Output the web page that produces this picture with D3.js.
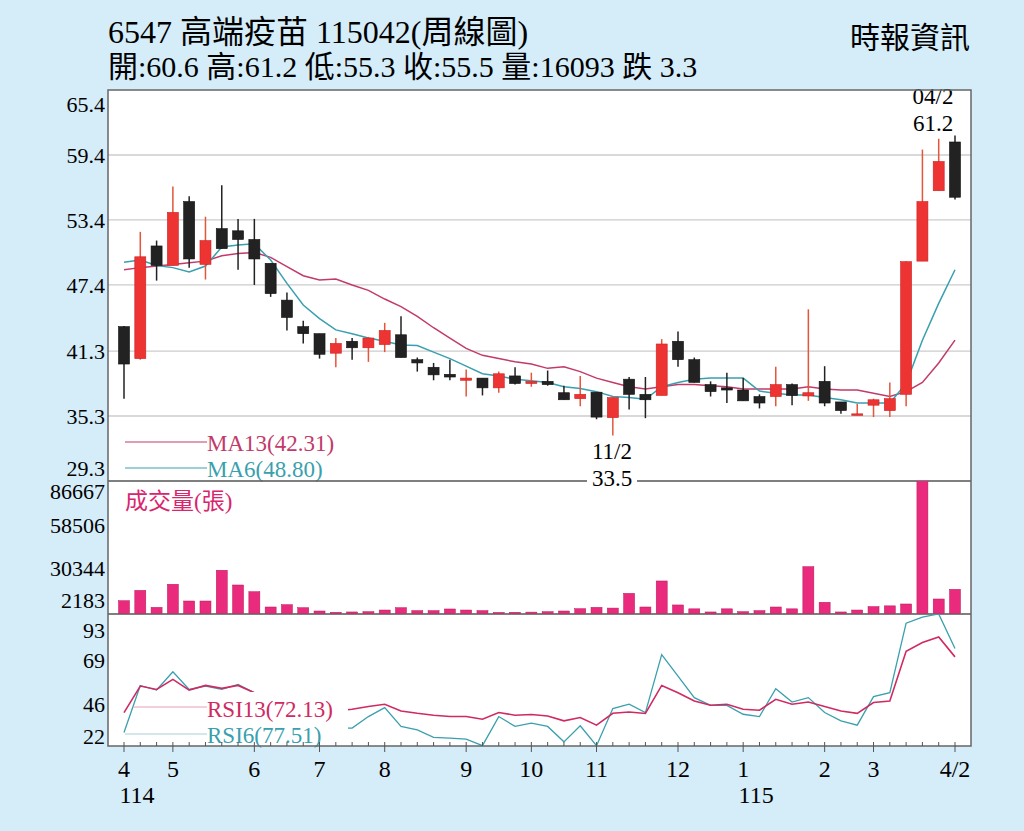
<!DOCTYPE html>
<html><head><meta charset="utf-8">
<script src="https://cdn.jsdelivr.net/npm/d3@7"></script>
<style>body{margin:0;background:#d5ecf9;}svg{display:block;font-family:"Liberation Serif","Noto Sans CJK TC",serif;}</style>
</head><body><svg id="c" width="1024" height="831"></svg>
<script>
const opens  = [43.55,40.6,51.0,49.2,55.1,49.3,52.6,52.4,51.6,49.4,46.0,43.55,42.9,41.1,42.2,41.6,41.9,42.8,40.5,39.8,39.15,38.6,38.8,37.9,39.0,38.3,38.5,37.45,36.9,37.5,35.15,38.7,37.3,37.2,42.2,40.5,38.2,37.9,37.7,37.1,37.1,38.2,37.15,38.5,36.6,35.37,36.3,35.8,37.3,49.6,56.1,60.6];
const highs  = [43.6,52.3,51.5,56.5,55.6,53.7,56.6,53.5,53.5,49.4,46.7,44.1,42.9,42.5,42.5,42.6,43.9,44.5,40.7,40.2,40.5,39.6,38.8,39.4,39.8,39.3,39.5,38.1,39.0,37.5,37.0,38.9,38.9,42.4,43.1,40.7,38.5,39.3,38.8,37.3,39.85,38.3,45.15,39.9,36.6,36.4,36.9,38.4,49.6,59.9,60.9,61.2];
const lows   = [36.9,40.5,47.8,49.2,49.0,47.9,50.75,48.8,47.4,46.3,43.2,42.0,40.6,39.8,40.5,40.3,41.2,40.7,39.4,38.6,38.6,37.1,37.2,37.45,38.2,38.0,38.1,36.8,36.2,35.0,33.5,35.9,35.1,37.2,39.85,38.4,37.1,36.5,36.7,36.0,36.2,36.3,36.7,36.2,35.5,35.37,35.2,35.2,36.2,49.6,56.1,55.3];
const closes = [40.1,50.0,49.2,54.1,49.8,51.5,50.75,51.6,49.8,46.6,44.4,42.9,41.0,42.0,41.6,42.5,43.2,40.7,40.2,39.1,38.9,38.8,37.9,39.2,38.3,38.5,38.2,36.8,37.3,35.2,37.0,37.3,36.8,41.95,40.5,38.4,37.55,37.7,36.7,36.5,38.2,37.2,37.45,36.5,35.8,35.5,36.8,36.9,49.55,55.1,58.8,55.5];
const ma13 = [48.8,49.0,49.15,49.3,49.45,49.6,50.1,50.3,50.4,49.95,49.1,48.25,47.85,47.95,47.4,46.9,46.1,45.4,44.5,43.45,42.5,41.55,40.9,40.6,40.3,40.1,39.7,39.85,39.4,38.8,38.4,38.0,37.8,38.0,38.2,38.2,38.1,38.0,37.8,37.8,37.8,37.8,38.0,37.8,37.7,37.7,37.4,37.1,37.55,38.4,40.2,42.31];
const ma6 = [49.5,49.7,49.2,49.0,48.6,49.15,50.9,51.1,51.2,49.7,47.55,45.55,44.3,43.25,42.9,42.5,42.2,41.85,41.8,41.2,40.6,39.9,39.2,39.0,38.7,38.56,38.4,38.0,37.85,37.55,37.1,37.0,36.85,38.0,38.4,38.7,38.8,38.8,38.8,37.6,37.4,37.25,37.25,37.0,36.8,36.5,36.5,36.5,38.3,42.3,45.7,48.8];
const volumes = [8460,15400,4000,19500,8250,8250,28900,19000,14500,4230,5800,3760,1540,700,900,1100,2200,3760,1800,1800,2900,2200,1800,600,700,800,1100,1540,3100,4000,3500,13400,4230,21700,5600,3000,900,3000,1100,1800,4230,3000,31300,7400,900,2200,4500,5000,6250,92000,9600,16093];
const rsi13 = [36,53.2,51,57.5,50.6,53.6,51.7,53.6,48.9,45,42,40,38,37,38.1,39.9,41.4,37,35.5,34.3,33.4,33.4,31.7,36,34.3,34.7,33.8,30.6,32.8,27.8,35.5,36.4,35.4,53.6,48.9,43.5,40.7,41.4,38.1,37.5,44.6,41.4,42.8,39.9,37,35.5,42.5,43.5,75.7,81.5,85,72.13];
const rsi6 = [23.1,53.6,50.6,62.5,51,53.2,51,54.3,48.9,40,32,28,25,26,25.9,33.4,39.2,27,24.8,19.9,19.4,18.8,14.5,33.4,27,29.1,27,17,27.4,14.5,38.6,41.4,36,73.6,59.6,45.7,40.7,40.7,34.9,33.4,51.5,42.8,45.7,36,30.6,27.8,46.3,48.9,94,97.9,100,77.51];
const priceTicks = [65.4,59.4,53.4,47.4,41.3,35.3,29.3];
const volTicks = [86667,58506,30344,2183];
const rsiTicks = [93,69,46,22];
const monthTicks = [[0,"4"],[3,"5"],[8,"6"],[12,"7"],[16,"8"],[21,"9"],[25,"10"],[29,"11"],[34,"12"],[38,"1"],[43,"2"],[46,"3"],[51,"4/2"]];
const yearTicks = [[0,"114"],[38,"115"]];
const title = "6547  高端疫苗 115042(周線圖)";
const subtitle = "開:60.6 高:61.2 低:55.3 收:55.5 量:16093 跌 3.3";
const source = "時報資訊";

const svg = d3.select("#c");
const L=108, R=971, T=90, P1=481, P2=614, B=746;
const n = closes.length;
const x = d3.scaleLinear().domain([0,n-1]).range([124,955]);
const yP = d3.scaleLinear().domain([29.3,65.4]).range([P1,T]);
const yV = d3.scaleLinear().domain([0,88800]).range([P2-0.7,P1]);
const yR = d3.scaleLinear().domain([14.3,98]).range([B,P2+3]);
const BLK="#222", RED="#ee3333", MA13C="#c23a6a", MA6C="#3a9fae";

svg.append("rect").attr("x",L).attr("y",T).attr("width",R-L).attr("height",B-T).attr("fill","#fff");
svg.append("g").selectAll("line").data(priceTicks.slice(1,-1)).join("line")
 .attr("x1",L).attr("x2",R).attr("y1",d=>yP(d)).attr("y2",d=>yP(d)).attr("stroke","#ccc").attr("stroke-width",1.3);
svg.append("g").selectAll("text").data(priceTicks).join("text")
 .attr("x",L-3).attr("y",(d,i)=>i===0?yP(d)+22:i===priceTicks.length-1?yP(d)-5:yP(d)+8).attr("text-anchor","end").attr("font-size",22).text(d=>d);
svg.append("clipPath").attr("id","cp").append("rect").attr("x",L).attr("y",T).attr("width",R-L).attr("height",P1-T);
svg.append("clipPath").attr("id","cv").append("rect").attr("x",L).attr("y",P1).attr("width",R-L).attr("height",P2-P1);
svg.append("clipPath").attr("id","cr").append("rect").attr("x",L).attr("y",P2).attr("width",R-L).attr("height",B-P2);
const gp = svg.append("g").attr("clip-path","url(#cp)");
const line = y=>d3.line().x((d,i)=>x(i)).y(d=>y(d));
gp.append("path").attr("d",line(yP)(ma13)).attr("fill","none").attr("stroke",MA13C).attr("stroke-width",1.5);
gp.append("path").attr("d",line(yP)(ma6)).attr("fill","none").attr("stroke",MA6C).attr("stroke-width",1.5);
const idx = d3.range(n);
const col = i=>closes[i]>=opens[i]?RED:BLK;
gp.selectAll(".w").data(idx).join("line").attr("x1",i=>x(i)).attr("x2",i=>x(i))
 .attr("y1",i=>yP(highs[i])).attr("y2",i=>yP(lows[i])).attr("stroke",i=>closes[i]>=opens[i]?"#e4553a":BLK).attr("stroke-width",1.5);
gp.selectAll(".b").data(idx).join("rect").attr("x",i=>x(i)-5.5).attr("width",11)
 .attr("y",i=>yP(Math.max(opens[i],closes[i]))).attr("height",i=>Math.max(1.5,Math.abs(yP(opens[i])-yP(closes[i]))))
 .attr("fill",col).attr("stroke",i=>closes[i]>=opens[i]?"#c22":"#111").attr("stroke-width",0.6);
// MA legend
svg.append("line").attr("x1",125).attr("x2",207).attr("y1",442).attr("y2",442).attr("stroke",MA13C);
svg.append("text").attr("x",207).attr("y",451).attr("font-size",23).attr("fill",MA13C).text("MA13("+ma13[n-1].toFixed(2)+")");
svg.append("line").attr("x1",125).attr("x2",207).attr("y1",468).attr("y2",468).attr("stroke",MA6C);
svg.append("text").attr("x",207).attr("y",477).attr("font-size",23).attr("fill",MA6C).text("MA6("+ma6[n-1].toFixed(2)+")");
// separators
svg.append("line").attr("x1",L).attr("x2",R).attr("y1",P1).attr("y2",P1).attr("stroke","#555").attr("stroke-width",1.5);
svg.append("line").attr("x1",L).attr("x2",R).attr("y1",P2).attr("y2",P2).attr("stroke","#555").attr("stroke-width",1.5);
// annotations
svg.append("text").attr("x",933).attr("y",104).attr("text-anchor","middle").attr("font-size",23).text("04/2");
svg.append("text").attr("x",933).attr("y",131).attr("text-anchor","middle").attr("font-size",23).text(highs[n-1].toFixed(1));
svg.append("rect").attr("x",587).attr("y",470).attr("width",50).attr("height",16).attr("fill","#fff");
svg.append("text").attr("x",612).attr("y",459).attr("text-anchor","middle").attr("font-size",23).text("11/2");
svg.append("text").attr("x",612).attr("y",486).attr("text-anchor","middle").attr("font-size",23).text(lows[30].toFixed(1));
// volume
svg.append("g").attr("clip-path","url(#cv)").selectAll("rect").data(idx).join("rect")
 .attr("x",i=>x(i)-5.5).attr("width",11).attr("y",i=>yV(volumes[i])).attr("height",i=>yV(0)-yV(volumes[i]))
 .attr("fill","#ea2a7d").attr("stroke","#b81a5a").attr("stroke-width",0.5);
const volLabY=[499,533,576,608];
svg.append("g").selectAll("text").data(volTicks).join("text")
 .attr("x",L-3).attr("y",(d,i)=>volLabY[i]).attr("text-anchor","end").attr("font-size",22).text(d=>d);
svg.append("text").attr("x",125).attr("y",509).attr("font-size",23).attr("fill","#d8256e").text("成交量(張)");
// RSI
const gr = svg.append("g").attr("clip-path","url(#cr)");
gr.append("path").attr("d",line(yR)(rsi6)).attr("fill","none").attr("stroke",MA6C).attr("stroke-width",1.3);
gr.append("path").attr("d",line(yR)(rsi13)).attr("fill","none").attr("stroke","#d02a62").attr("stroke-width",1.6);
svg.append("rect").attr("x",205).attr("y",692).attr("width",143).attr("height",53).attr("fill","#fff");
svg.append("line").attr("x1",133).attr("x2",207).attr("y1",707).attr("y2",707).attr("stroke","#e8a0b8");
svg.append("text").attr("x",207).attr("y",717).attr("font-size",23).attr("fill","#d02a62").text("RSI13("+rsi13[n-1].toFixed(2)+")");
svg.append("line").attr("x1",125).attr("x2",207).attr("y1",734).attr("y2",734).attr("stroke","#a8cfd6");
svg.append("text").attr("x",207).attr("y",743).attr("font-size",23).attr("fill",MA6C).text("RSI6("+rsi6[n-1].toFixed(2)+")");
const rsiLabY=[638,668,712,744];
svg.append("g").selectAll("text").data(rsiTicks).join("text")
 .attr("x",L-3).attr("y",(d,i)=>rsiLabY[i]).attr("text-anchor","end").attr("font-size",22).text(d=>d);
// frame
svg.append("rect").attr("x",L).attr("y",T).attr("width",R-L).attr("height",B-T).attr("fill","none").attr("stroke","#666").attr("stroke-width",1.5);
svg.append("g").selectAll("line").data(idx).join("line").attr("x1",i=>x(i)).attr("x2",i=>x(i)).attr("y1",B-4).attr("y2",B).attr("stroke","#555");
svg.append("g").selectAll("line").data(monthTicks).join("line").attr("x1",d=>x(d[0])).attr("x2",d=>x(d[0])).attr("y1",B).attr("y2",B+6).attr("stroke","#555");
svg.append("g").selectAll("text").data(monthTicks).join("text").attr("x",d=>x(d[0])).attr("y",777).attr("text-anchor","middle").attr("font-size",24).text(d=>d[1]);
svg.append("g").selectAll("text").data(yearTicks).join("text").attr("x",d=>x(d[0])+13).attr("y",803).attr("text-anchor","middle").attr("font-size",24).text(d=>d[1]);
// titles
svg.append("text").attr("x",108).attr("y",43).attr("font-size",32).text(title);
svg.append("text").attr("x",108).attr("y",77).attr("font-size",30).text(subtitle);
svg.append("text").attr("x",970).attr("y",48).attr("text-anchor","end").attr("font-size",30).text(source);
</script></body></html>
